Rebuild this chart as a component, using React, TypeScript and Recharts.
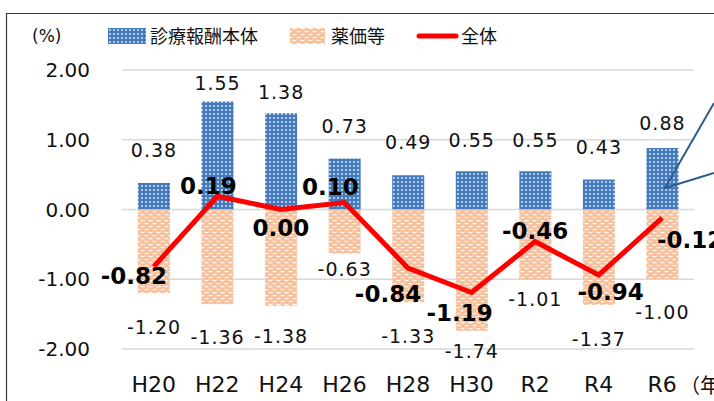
import React from "react"
import {
  ComposedChart, Bar, Line, XAxis, YAxis, CartesianGrid, LabelList,
} from "recharts"

const categories = ["H20", "H22", "H24", "H26", "H28", "H30", "R2", "R4", "R6"]
const honTai = [0.38, 1.55, 1.38, 0.73, 0.49, 0.55, 0.55, 0.43, 0.88]
const yakka = [-1.2, -1.36, -1.38, -0.63, -1.33, -1.74, -1.01, -1.37, -1.0]
const zentai = [-0.82, 0.19, 0.0, 0.1, -0.84, -1.19, -0.46, -0.94, -0.12]
const yTicks = [-2, -1, 0, 1, 2]

// label placement (px), kept apart from the values
const honTaiGap = [33, 18, 21, 32, 33, 31, 31, 32, 25]
const yakkaGap = [34, 33, 31, 16, 34, 20, 19, 34, 33]
const zentaiShift: [number, number][] = [
  [-20, 9], [-9, -10], [0, 18], [-14, -16], [-20, 26],
  [-12, 20], [0, -11], [12, 17], [28, 22],
]

const data = categories.map((c, i) => ({
  name: c,
  honTai: honTai[i],
  yakka: yakka[i],
  zentai: zentai[i],
}))

const FONT = "'DejaVu Sans', 'Noto Sans CJK JP', sans-serif"
const JP = "'Noto Sans CJK JP', 'DejaVu Sans', sans-serif"

function TopLabel(props: any) {
  const { x, y, width, height, value, index } = props
  const top = Math.min(y, y + height)
  return (
    <text x={x + width / 2} y={top - honTaiGap[index]} dy="0.35em" textAnchor="middle"
      fontSize={19} letterSpacing={1} fill="#111" fontFamily={FONT}>
      {Number(value).toFixed(2)}
    </text>
  )
}

function BottomLabel(props: any) {
  const { x, y, width, height, value, index } = props
  const bottom = Math.max(y, y + height)
  return (
    <text x={x + width / 2} y={bottom + yakkaGap[index]} dy="0.35em" textAnchor="middle"
      fontSize={19} letterSpacing={1} fill="#111" fontFamily={FONT}>
      {Number(value).toFixed(2)}
    </text>
  )
}

function LineLabel(props: any) {
  const { x, y, value, index } = props
  const [dx, dy] = zentaiShift[index]
  return (
    <text x={x + dx} y={y + dy} dy="0.35em" textAnchor="middle"
      fontSize={23} fontWeight="bold" fill="#000" fontFamily={FONT}>
      {Number(value).toFixed(2)}
    </text>
  )
}

export default function App() {
  return (
    <div style={{ position: "absolute", left: 0, top: 0, width: 714, height: 401, overflow: "hidden", background: "#fff" }}>
      <ComposedChart
        width={714}
        height={401}
        data={data}
        stackOffset="sign"
        barSize={32}
        margin={{ top: 70, right: 20, left: 0, bottom: 0 }}
      >
        <defs>
          <pattern id="dotBlue" width="4" height="4" patternUnits="userSpaceOnUse">
            <rect width="4" height="4" fill="#4379bd" />
            <circle cx="2" cy="2" r="0.95" fill="#ffffff" fillOpacity="0.85" />
          </pattern>
          <pattern id="dashPeach" width="8" height="6" patternUnits="userSpaceOnUse">
            <rect width="8" height="6" fill="#f6c19c" />
            <rect x="0.5" y="1" width="4" height="1.2" fill="#ffffff" fillOpacity="0.9" />
            <rect x="4.5" y="4" width="4" height="1.2" fill="#ffffff" fillOpacity="0.9" />
            <rect x="-3.5" y="4" width="4" height="1.2" fill="#ffffff" fillOpacity="0.9" />
          </pattern>
        </defs>
        <CartesianGrid vertical={false} stroke="#d9d9d9" strokeWidth={1.5} />
        <XAxis
          dataKey="name"
          axisLine={false}
          tickLine={false}
          tickSize={0}
          tickMargin={27}
          height={52}
          tick={{ fill: "#111", fontSize: 22, fontFamily: FONT }}
        />
        <YAxis
          domain={[-2, 2]}
          ticks={yTicks}
          axisLine={false}
          tickLine={false}
          tickSize={0}
          tickMargin={32}
          width={122}
          tickFormatter={(v: number) => v.toFixed(2)}
          tick={{ fill: "#111", fontSize: 20, fontFamily: FONT }}
        />
        <Bar dataKey="honTai" stackId="a" fill="url(#dotBlue)" isAnimationActive={false}>
          <LabelList dataKey="honTai" content={<TopLabel />} />
        </Bar>
        <Bar dataKey="yakka" stackId="a" fill="url(#dashPeach)" isAnimationActive={false}>
          <LabelList dataKey="yakka" content={<BottomLabel />} />
        </Bar>
        <Line
          dataKey="zentai"
          stroke="#ff0000"
          strokeWidth={5}
          dot={false}
          activeDot={false}
          isAnimationActive={false}
        >
          <LabelList dataKey="zentai" content={<LineLabel />} />
        </Line>
      </ComposedChart>

      <svg width={714} height={401} style={{ position: "absolute", left: 0, top: 0, pointerEvents: "none" }}>
        {/* frame */}
        <path d="M6.5 401 V13.5 H714" fill="none" stroke="#3a3a3a" strokeWidth={1.2} />
        {/* unit */}
        <text x={32} y={42} fontSize={17} fontFamily={FONT} fill="#111">(%)</text>
        {/* legend */}
        <rect x={108} y={28} width={38} height={16} fill="url(#dotBlue)" />
        <text x={150} y={43} fontSize={18} fontFamily={JP} fill="#111">診療報酬本体</text>
        <rect x={290} y={28} width={35} height={16} fill="url(#dashPeach)" />
        <text x={331} y={43} fontSize={18} fontFamily={JP} fill="#111">薬価等</text>
        <line x1={419} y1={36} x2={456} y2={36} stroke="#ff0000" strokeWidth={5} strokeLinecap="round" />
        <text x={461} y={43} fontSize={18} fontFamily={JP} fill="#111">全体</text>
        {/* x unit */}
        <text x={680} y={393} fontSize={20} fontFamily={JP} fill="#111">（年度）</text>
        {/* callout */}
        <path d="M714 103 L665 188 L714 173" fill="none" stroke="#2e5c8a" strokeWidth={2} />
      </svg>
    </div>
  )
}
